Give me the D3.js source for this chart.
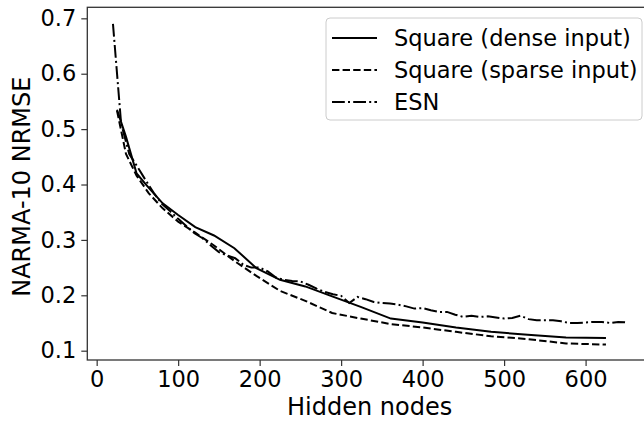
<!DOCTYPE html>
<html><head><meta charset="utf-8">
<script src="https://cdn.jsdelivr.net/npm/d3@7"></script>
<style>body{margin:0;background:#fff}svg{display:block}text{font-family:"DejaVu Sans",sans-serif;fill:#000}</style>
</head><body><svg id="c" width="644" height="422"></svg>
<script>
const squareNodes = [25,36,49,64,81,100,121,144,169,196,225,256,289,324,361,400,441,484,529,576,625];
const denseNRMSE  = [0.535,0.486,0.420,0.394,0.366,0.345,0.323,0.308,0.285,0.249,0.228,0.216,0.198,0.179,0.158,0.151,0.142,0.134,0.129,0.124,0.123];
const sparseNRMSE = [0.533,0.455,0.416,0.384,0.357,0.333,0.313,0.290,0.262,0.235,0.208,0.190,0.168,0.158,0.148,0.142,0.134,0.126,0.121,0.113,0.111];
const esnNodes = [20,30,40,50,60,70,80,90,100,110,120,130,140,150,160,170,180,190,200,210,220,230,240,250,260,270,280,290,300,310,320,330,340,350,360,370,380,390,400,410,420,430,440,450,460,470,480,490,500,510,520,530,540,550,560,570,580,590,600,610,620,630,640,650];
const esnNRMSE = [0.690,0.510,0.455,0.432,0.408,0.385,0.365,0.352,0.338,0.325,0.312,0.303,0.290,0.278,0.272,0.267,0.255,0.250,0.250,0.243,0.232,0.228,0.226,0.225,0.219,0.212,0.206,0.202,0.199,0.186,0.197,0.193,0.188,0.186,0.185,0.183,0.180,0.176,0.177,0.173,0.170,0.170,0.165,0.161,0.163,0.161,0.162,0.160,0.158,0.159,0.163,0.157,0.155,0.155,0.155,0.153,0.150,0.150,0.151,0.152,0.152,0.150,0.152,0.151];
const yTicks = [0.1,0.2,0.3,0.4,0.5,0.6,0.7];
const xTicks = [0,100,200,300,400,500,600];
const seriesNames = ["Square (dense input)","Square (sparse input)","ESN"];
const xLabel = "Hidden nodes", yLabel = "NARMA-10 NRMSE";

const svg = d3.select("#c");
const L=87.3, T=7.3, R=652, B=360;
const x = d3.scaleLinear().domain([-11.5,681.5]).range([L,R]);
const y = d3.scaleLinear().domain([0.0832,0.7199]).range([B,T]);
const dashes = [null,"7.4,3.2","12.8,3.2,2,3.2"];
const series = [
  squareNodes.map((n,i)=>[n,denseNRMSE[i]]),
  squareNodes.map((n,i)=>[n,sparseNRMSE[i]]),
  esnNodes.map((n,i)=>[n,esnNRMSE[i]])
];
const line = d3.line().x(d=>x(d[0])).y(d=>y(d[1]));
series.forEach((s,i)=>{
  svg.append("path").attr("d",line(s)).attr("fill","none").attr("stroke","#000")
    .attr("stroke-width",2).attr("stroke-dasharray",dashes[i]);
});
const fs = 22.5;
const ya = svg.append("g").attr("transform",`translate(${L},0)`)
  .call(d3.axisLeft(y).tickValues(yTicks).tickFormat(d3.format(".1f")).tickSize(6).tickPadding(5));
const xa = svg.append("g").attr("transform",`translate(0,${B})`)
  .call(d3.axisBottom(x).tickValues(xTicks).tickFormat(d3.format("d")).tickSize(6).tickPadding(5));
[ya,xa].forEach(g=>{
  g.select(".domain").remove();
  g.selectAll(".tick line").attr("stroke","#333").attr("stroke-width",1.2);
  g.selectAll(".tick text").attr("font-size",fs).attr("font-family","DejaVu Sans").attr("fill","#000");
});
svg.append("rect").attr("x",L).attr("y",T).attr("width",R-L).attr("height",B-T)
  .attr("fill","none").attr("stroke","#333").attr("stroke-width",1.3);
svg.append("text").attr("x",(L+R)/2).attr("y",415).attr("text-anchor","middle").attr("font-size",24).text(xLabel);
svg.append("text").attr("transform",`translate(30,${(T+B)/2+3}) rotate(-90)`).attr("text-anchor","middle").attr("font-size",24).text(yLabel);

const lg = svg.append("g");
lg.append("rect").attr("x",326).attr("y",18).attr("width",316).attr("height",102).attr("rx",4)
  .attr("fill","#fff").attr("fill-opacity",0.8).attr("stroke","#ccc").attr("stroke-width",1);
const rows=[38,70,102];
seriesNames.forEach((nm,i)=>{
  lg.append("line").attr("x1",332).attr("x2",377).attr("y1",rows[i]).attr("y2",rows[i])
    .attr("stroke","#000").attr("stroke-width",2).attr("stroke-dasharray",dashes[i]);
  lg.append("text").attr("x",394).attr("y",rows[i]).attr("dy","0.36em").attr("font-size",22.5).text(nm);
});
</script></body></html>
